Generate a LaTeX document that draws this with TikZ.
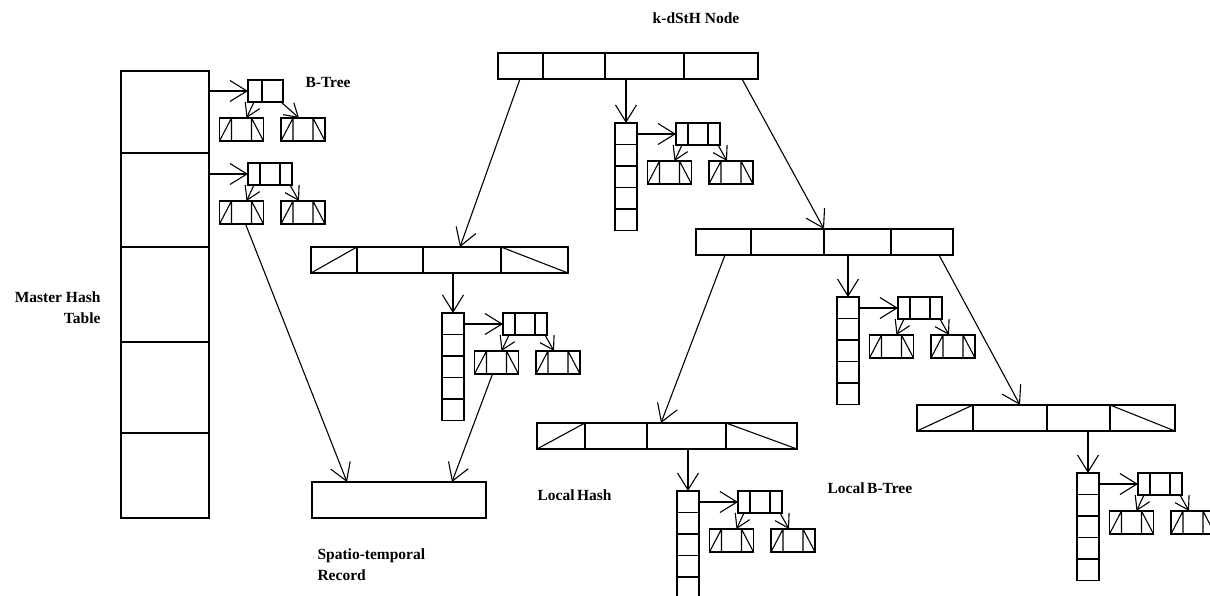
\documentclass[tikz,border=0pt]{standalone}
\usepackage{fontspec}
\setmainfont{Liberation Serif}
\usetikzlibrary{arrows.meta,calc}

\tikzset{
  arr/.style={-{Straight Barb[length=17pt,width=21pt]}},
  sarr/.style={-{Straight Barb[length=13pt,width=16pt]}},
  box/.style={draw,inner sep=0pt,outer sep=0pt,anchor=north west},
  rootbox/.style={box,minimum width=44pt,minimum height=22pt,
    path picture={\foreach \sx in {12,32}
      \draw ([xshift=\sx pt]path picture bounding box.north west) -- ([xshift=\sx pt]path picture bounding box.south west);}},
  rootsmall/.style={box,minimum width=35pt,minimum height=22pt,
    path picture={\draw ([xshift=14pt]path picture bounding box.north west) -- ([xshift=14pt]path picture bounding box.south west);}},
  leafbox/.style={box,minimum width=44pt,minimum height=23pt,
    path picture={
      \draw (path picture bounding box.south west) -- ([xshift=12pt]path picture bounding box.north west) -- ([xshift=12pt]path picture bounding box.south west);
      \draw ([xshift=-12pt]path picture bounding box.south east) -- ([xshift=-12pt]path picture bounding box.north east) -- (path picture bounding box.south east);}},
  hashbox/.style={box,minimum width=22pt,minimum height=107.5pt,
    path picture={\foreach \kk in {1,...,4}
      \draw ([yshift=-\kk*21.5pt]path picture bounding box.north west) -- ([yshift=-\kk*21.5pt]path picture bounding box.north east);}},
  kdbox/.style={box,minimum height=26pt},
  lbl/.style={font=\fontsize{15.5}{21}\selectfont\bfseries,inner sep=0pt},
}

% B-tree: root and two leaves
\newcommand{\btree}[4][rootbox]{%
  \node[#1] (#2r) at (#3,#4) {};
  \node[leafbox] (#2a) at ($(#2r.north west)+(-28.5,38)$) {};
  \node[leafbox] (#2b) at ($(#2r.north west)+(33,38)$) {};
  \draw[sarr] ([xshift=6pt]#2r.south west) -- ([xshift=-17pt]#2a.north east);
  \draw[sarr] ([xshift=-2pt]#2r.south east) -- ([xshift=18pt]#2b.north west);
}
% local hash column with its local B-tree
\newcommand{\hashgroup}[3]{%
  \node[hashbox] (#1h) at (#2,#3) {};
  \btree{#1}{#2+61}{#3}
  \draw[arr] (#1r.west -| #1h.east) -- (#1r.west);
}
% k-d node with cell dividers
\newcommand{\kdnode}[5]{%
  \node[kdbox,minimum width=#4pt] (#1) at (#2,#3) {};
  \foreach \dv in {#5}
    \draw ([xshift=\dv pt]#1.north west) -- ([xshift=\dv pt]#1.south west);
}
\newcommand{\kdslash}[3]{%
  \draw (#1.south west) -- ([xshift=#2pt]#1.north west);
  \draw ([xshift=#3pt]#1.north west) -- (#1.south east);
}

\begin{document}
\begin{tikzpicture}[x=1pt,y=-1pt,line width=1.1pt]
  \useasboundingbox (0,0) rectangle (1210,596);

  % master hash table
  \node[box,minimum width=88pt,minimum height=447pt] (mht) at (121,71) {};
  \foreach \dv in {82,176,271,362}
    \draw ([yshift=-\dv pt]mht.north west) -- ([yshift=-\dv pt]mht.north east);
  \btree[rootsmall]{ba}{248}{80}
  \btree{bb}{248}{163}
  \draw[arr] (bar.west -| mht.east) -- (bar.west);
  \draw[arr] (bbr.west -| mht.east) -- (bbr.west);

  % record
  \node[box,minimum width=174pt,minimum height=36pt] (rec) at (312,482) {};
  \draw[arr] ([xshift=26pt]bba.south west) -- ([xshift=35pt]rec.north west);

  % k-dStH nodes
  \kdnode{kt}{498}{53}{260}{45,107,186}
  \kdnode{kl}{311}{247}{257}{46,112,190}
  \kdslash{kl}{46}{190}
  \kdnode{kr}{696}{229}{257}{55,128,195}
  \kdnode{kb}{537}{423}{260}{48,110,189}
  \kdslash{kb}{48}{189}
  \kdnode{kq}{917}{405}{258}{56,130,193}
  \kdslash{kq}{56}{193}

  % local hash + local B-tree
  \hashgroup{hm}{615}{123}
  \hashgroup{hl}{442}{313}
  \hashgroup{hr}{837}{297}
  \hashgroup{hb}{677}{491}
  \hashgroup{hq}{1077}{473}

  % links
  \draw[arr] ([xshift=22pt]kt.south west) -- ([xshift=149pt]kl.north west);
  \draw[arr] (hmh.north |- kt.south) -- (hmh.north);
  \draw[arr] ([xshift=244pt]kt.south west) -- ([xshift=128pt]kr.north west);
  \draw[arr] (hlh.north |- kl.south) -- (hlh.north);
  \draw[arr] (hrh.north |- kr.south) -- (hrh.north);
  \draw[arr] ([xshift=29pt]kr.south west) -- ([xshift=124pt]kb.north west);
  \draw[arr] ([xshift=-14pt]kr.south east) -- ([xshift=103pt]kq.north west);
  \draw[arr] (hbh.north |- kb.south) -- (hbh.north);
  \draw[arr] (hqh.north |- kq.south) -- (hqh.north);
  \draw[arr] ([xshift=18pt]hla.south west) -- ([xshift=140pt]rec.north west);

  % labels
  \node[lbl,anchor=base] (title) at (696,23.5) {k-dStH Node};
  \node[lbl,anchor=base west] (btlbl) at (305,87.5) {B-Tree};
  \node[lbl,anchor=north east,align=right] (mhlbl) at (101,291) {Master Hash\\Table};
  \node[lbl,anchor=base west] (lhlbl) at (537,500) {Local\,Hash};
  \node[lbl,anchor=base west] (lblbl) at (827,493) {Local\,B-Tree};
  \node[lbl,anchor=north west,align=left] (reclbl) at (317,548) {Spatio-temporal\\Record};
\end{tikzpicture}
\end{document}
